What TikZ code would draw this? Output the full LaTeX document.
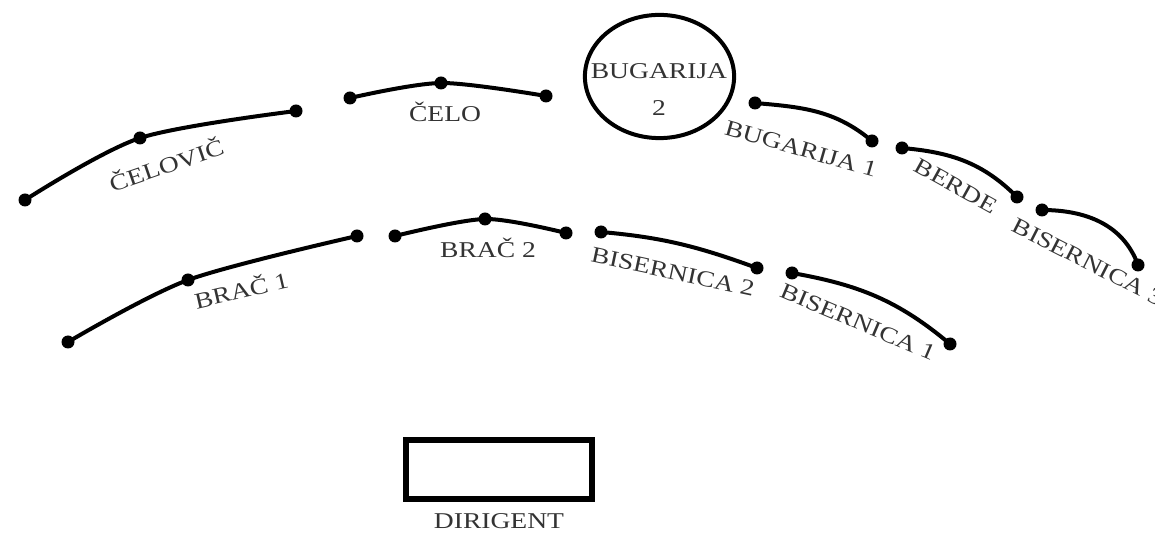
\documentclass[tikz,border=0pt]{standalone}
\usepackage{fontspec}
\setmainfont{Liberation Serif}[FakeStretch=1.22]
\tikzstyle{dot} = [circle, fill, inner sep=0pt, minimum size=6.5pt]
\tikzstyle{section} = [line width=2pt]
\tikzstyle{partname} = [font=\fontsize{11.3}{18.5}\selectfont, inner sep=1pt, text=black!80]

\begin{document}
\begin{tikzpicture}[x=0.5pt, y=-0.5pt]
    \useasboundingbox (0,0) rectangle (1155,533);

        % dots, back row
        \node[dot] (celovic1) at (25,200) {};
        \node[dot] (celovic2) at (140,138) {};
        \node[dot] (celovic3) at (296,111) {};
        \node[dot] (celo1) at (350,98) {};
        \node[dot] (celo2) at (441,83) {};
        \node[dot] (celo3) at (546,96) {};
        \node[dot] (bugarija1a) at (755,103) {};
        \node[dot] (bugarija1b) at (872,141) {};
        \node[dot] (berde1) at (902,148) {};
        \node[dot] (berde2) at (1017,197) {};
        \node[dot] (bisernica3a) at (1042,210) {};
        \node[dot] (bisernica3b) at (1138,265) {};

        % dots, front row
        \node[dot] (brac1a) at (68,342) {};
        \node[dot] (brac1b) at (188,280) {};
        \node[dot] (brac1c) at (357,236) {};
        \node[dot] (brac2a) at (395,236) {};
        \node[dot] (brac2b) at (485,219) {};
        \node[dot] (brac2c) at (566,233) {};
        \node[dot] (bisernica2a) at (601,232) {};
        \node[dot] (bisernica2b) at (757,268) {};
        \node[dot] (bisernica1a) at (792,273) {};
        \node[dot] (bisernica1b) at (950,344) {};

        % sections
        \draw[section] plot[smooth] coordinates {(celovic1.center) (celovic2.center) (celovic3.center)};
        \draw[section] plot[smooth] coordinates {(celo1.center) (celo2.center) (celo3.center)};
        \draw[section] (bugarija1a.center) to[out=-5, in=140] (bugarija1b.center);
        \draw[section] (berde1.center) to[out=-5, in=135] (berde2.center);
        \draw[section] (bisernica3a.center) to[out=0, in=110] (bisernica3b.center);
        \draw[section] plot[smooth] coordinates {(brac1a.center) (brac1b.center) (brac1c.center)};
        \draw[section] plot[smooth] coordinates {(brac2a.center) (brac2b.center) (brac2c.center)};
        \draw[section] (bisernica2a.center) to[out=-5, in=160] (bisernica2b.center);
        \draw[section] (bisernica1a.center) to[out=-10, in=140] (bisernica1b.center);

        % names
        \node[partname, rotate=19] (celovic) at (166,164) {ČELOVIČ};
        \node[partname] (celo) at (445,112) {ČELO};
        \coordinate (krug) at (659.5,76.5);
        \draw[section] (krug) ellipse [x radius=37.3pt, y radius=30.8pt];
        \node[partname, align=center] (bugarija2) at (659,90) {BUGARIJA\\2};
        \node[partname, rotate=-16] (bugarija1) at (801,149) {BUGARIJA 1};
        \node[partname, rotate=-29] (berde) at (956,186) {BERDE};
        \node[partname, rotate=-27] (bisernica3) at (1088,262) {BISERNICA 3};
        \node[partname, rotate=13] (brac1) at (241,289) {BRAČ 1};
        \node[partname] (brac2) at (488,248) {BRAČ 2};
        \node[partname, rotate=-12] (bisernica2) at (673,272) {BISERNICA 2};
        \node[partname, rotate=-23] (bisernica1) at (858,322) {BISERNICA 1};

        % conductor
        \node (podij) [draw, line width=3pt, minimum width=93pt, minimum height=29.5pt] at (499,469.5) {};
        \node[partname] (dirigent) at (499,521) {DIRIGENT};

    \end{tikzpicture}
\end{document}
